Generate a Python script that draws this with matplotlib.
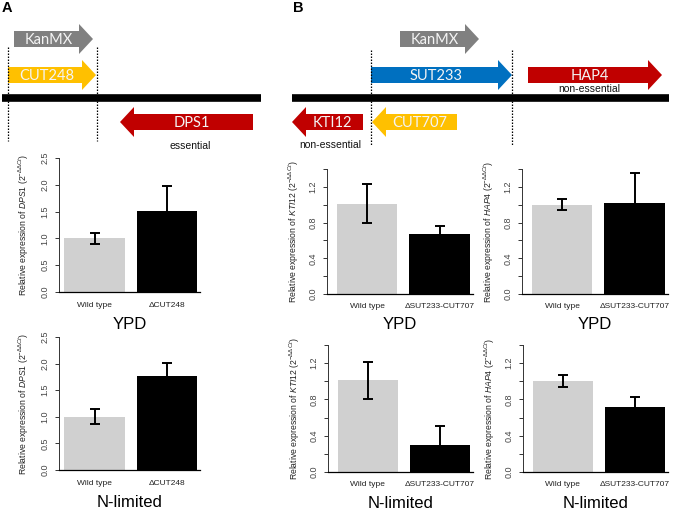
import matplotlib
matplotlib.use("Agg")
import matplotlib.pyplot as plt
from matplotlib.patches import FancyArrow
import numpy as np

plt.rcParams['font.family'] = ['Liberation Sans', 'DejaVu Sans']
plt.rcParams['mathtext.fontset'] = 'custom'
plt.rcParams['mathtext.rm'] = 'Liberation Sans'
plt.rcParams['mathtext.it'] = 'Liberation Sans:italic'
plt.rcParams['mathtext.bf'] = 'Liberation Sans:bold'

# ---------------- data ----------------
strains_A = ["Wild type", "\u0394CUT248"]
strains_B = ["Wild type", "\u0394SUT233-CUT707"]

dps1_ypd = [1.00, 1.52]
dps1_ypd_err = [0.10, 0.45]
dps1_nlim = [1.00, 1.76]
dps1_nlim_err = [0.14, 0.25]

kti12_ypd = [1.01, 0.67]
kti12_ypd_err = [0.22, 0.09]
kti12_nlim = [1.01, 0.30]
kti12_nlim_err = [0.20, 0.21]

hap4_ypd = [1.00, 1.02]
hap4_ypd_err = [0.06, 0.33]
hap4_nlim = [1.00, 0.72]
hap4_nlim_err = [0.065, 0.11]

ticks_A = [0.0, 0.5, 1.0, 1.5, 2.0, 2.5]
ticklabels_A = ["0.0", "0.5", "1.0", "1.5", "2.0", "2.5"]
ticks_B = [0.0, 0.2, 0.4, 0.6, 0.8, 1.0, 1.2, 1.4]
ticklabels_B = ["0.0", "", "0.4", "", "0.8", "", "1.2", ""]

# gene schematic (name, start, end, row, colour key)
genes_A = [("KanMX", 14, 93, 0, "gray"), ("CUT248", 8, 96, 1, "yellow"),
           ("DPS1", 253, 120, 2, "red")]
genes_B = [("KanMX", 400, 479, 0, "gray"), ("SUT233", 371, 512, 1, "blue"),
           ("HAP4", 528, 662, 1, "red"), ("KTI12", 363, 292, 2, "red"),
           ("CUT707", 457, 372, 2, "yellow")]

W, H = 675, 512
fig = plt.figure(figsize=(W / 100, H / 100), dpi=100)

# ---------- schematic overlay ----------
ov = fig.add_axes([0, 0, 1, 1])
ov.set_xlim(0, W)
ov.set_ylim(H, 0)
ov.axis('off')

colors = {"gray": "#808080", "yellow": "#FFC000", "blue": "#0070C0", "red": "#C00000"}
row_y = [39, 75, 122]

def draw_gene(name, s, e, row, ck):
    y = row_y[row]
    ov.add_patch(FancyArrow(s, y, e - s, 0, width=16, head_width=30, head_length=14,
                            length_includes_head=True, color=colors[ck], lw=0))
    xc = (s + e) / 2 + (-5 if e > s else 5)
    ov.text(xc, y + 1, name, color="#F4F4F4", fontsize=10.5, ha="center", va="center",
            family=["Lato", "DejaVu Sans"])

for g in genes_A + genes_B:
    draw_gene(*g)

# chromosome lines
ov.plot([2, 261], [98, 98], color="black", lw=5.5, solid_capstyle="butt")
ov.plot([292, 669], [98, 98], color="black", lw=5.5, solid_capstyle="butt")
# dotted boundaries
for x, y0, y1 in [(8, 47, 141), (97, 47, 141), (371, 50, 146), (512, 50, 146)]:
    ov.plot([x, x], [y0, y1], color="black", lw=0.9, ls=(0, (1.2, 1.2)))

ov.text(190, 146, "essential", fontsize=7.5, ha="center", va="center", color="#111111")
ov.text(589, 89, "non-essential", fontsize=7.5, ha="center", va="center", color="#111111")
ov.text(330, 145, "non-essential", fontsize=7.5, ha="center", va="center", color="#111111")
ov.text(2, 1, "A", fontsize=10.5, fontweight="bold", ha="left", va="top")
ov.text(293, 1, "B", fontsize=10.5, fontweight="bold", ha="left", va="top")

# ---------- bar plots ----------
def px_box(x0, x1, yb, yt):
    return [x0 / W, 1 - yb / H, (x1 - x0) / W, (yb - yt) / H]

xpos = np.array([0.7, 1.9])
bar_colors = ["#D0D0D0", "black"]

def barpanel(box, vals, errs, strains, ymax, ticks, tlabels, gene, title, xlo, label_dx):
    ax = fig.add_axes(px_box(*box))
    ax.bar(xpos, vals, width=1.0, color=bar_colors, edgecolor="none", zorder=2)
    ax.errorbar(xpos, vals, yerr=errs, fmt="none", ecolor="black", elinewidth=1.4,
                capsize=3.3, capthick=1.4, zorder=3)
    ax.set_xlim(xlo, 2.45)
    ax.set_ylim(0, ymax)
    ax.set_yticks(ticks)
    ax.set_yticklabels(tlabels)
    ax.tick_params(axis="y", length=3, width=0.7, labelsize=6.5, pad=3.8,
                   labelrotation=90, colors="#333333", labelcolor="#444444")
    for lab in ax.get_yticklabels():
        lab.set_va("center")
    ax.set_xticks([])
    for sp in ["top", "right"]:
        ax.spines[sp].set_visible(False)
    ax.spines["left"].set_linewidth(0.7)
    ax.spines["left"].set_color("#333333")
    ax.spines["bottom"].set_linewidth(0.9)
    ax.patch.set_alpha(0)
    ax.set_ylabel(r"Relative expression of $\it{" + gene + r"}$ (2$^{-\Delta\Delta Ct}$)",
                  fontsize=6.2, color="#222222")
    bw = box[1] - box[0]
    ax.yaxis.set_label_coords(label_dx / bw, 0.5)
    for xp, s in zip(xpos, strains):
        ax.text(xp, -0.1, s, transform=ax.get_xaxis_transform(), fontsize=6,
                ha="center", va="center", color="#222222")
    ax.text(0.5, -0.245, title, transform=ax.transAxes, fontsize=12,
            ha="center", va="center")
    return ax

barpanel((59, 200, 292, 158), dps1_ypd, dps1_ypd_err, strains_A, 2.5,
         ticks_A, ticklabels_A, "DPS1", "YPD", 0.11, -28)
barpanel((59, 200, 470, 337), dps1_nlim, dps1_nlim_err, strains_A, 2.5,
         ticks_A, ticklabels_A, "DPS1", "N-limited", 0.11, -28)
barpanel((327, 473, 294, 169), kti12_ypd, kti12_ypd_err, strains_B, 1.4,
         ticks_B, ticklabels_B, "KTI12", "YPD", 0.04, -26)
barpanel((522, 668, 294, 169), hap4_ypd, hap4_ypd_err, strains_B, 1.4,
         ticks_B, ticklabels_B, "HAP4", "YPD", 0.04, -26)
barpanel((328, 473, 472, 345), kti12_nlim, kti12_nlim_err, strains_B, 1.4,
         ticks_B, ticklabels_B, "KTI12", "N-limited", 0.04, -26)
barpanel((523, 668, 472, 345), hap4_nlim, hap4_nlim_err, strains_B, 1.4,
         ticks_B, ticklabels_B, "HAP4", "N-limited", 0.04, -26)

fig.savefig("out.png", dpi=100)
